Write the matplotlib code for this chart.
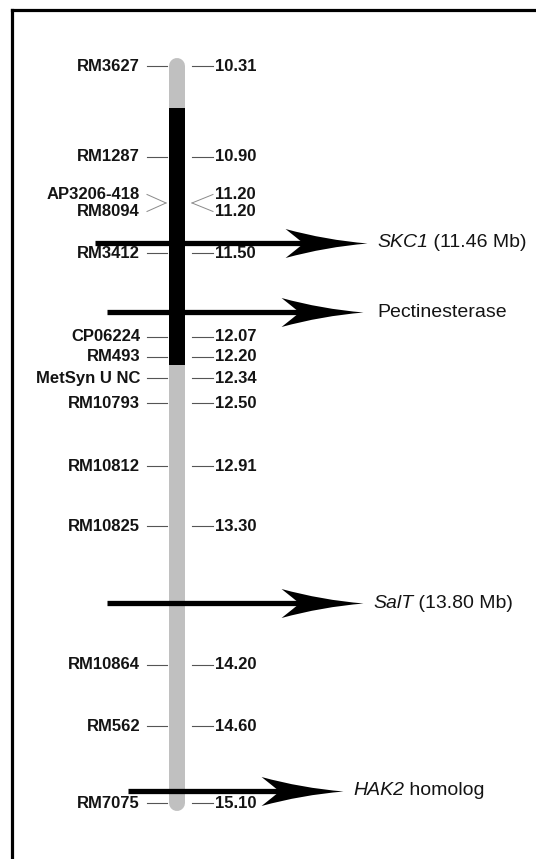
import numpy as np
import matplotlib
matplotlib.use("Agg")
from matplotlib import pyplot as plt
from matplotlib.path import Path

plt.rcParams['font.family'] = ['Liberation Sans', 'DejaVu Sans']

# markers along the chromosome (physical position, Mb)
marker_names = ["RM3627", "RM1287", "AP3206-418", "RM8094", "RM3412", "CP06224", "RM493",
                "MetSyn U NC", "RM10793", "RM10812", "RM10825", "RM10864", "RM562", "RM7075"]
marker_mb = [10.31, 10.90, 11.20, 11.20, 11.50, 12.07, 12.20, 12.34, 12.50, 12.91, 13.30,
             14.20, 14.60, 15.10]
# labels that would collide are pushed apart (pixels)
label_shift_px = [0, 0, -8.5, 8.5, 4, 0, 0, 0, 0, 0, 0, 0, 0, 0]

# QTL interval shown in black
qtl_mb = [10.58, 12.25]

# candidate genes
gene_names = ["SKC1", "Pectinesterase", "SalT", "HAK2"]
gene_mb = [11.46, 11.91, 13.80, 15.02]
gene_italic = [True, False, True, True]
gene_suffix = [" ({:.2f} Mb)", "", " ({:.2f} Mb)", " homolog"]

# arrow geometry (horizontal layout units = pixels)
arrow_start = [95, 107, 107, 128]
arrow_tip = [367, 363, 363, 343]
text_x = [377, 377, 373, 353]

fig = plt.figure(figsize=(5.36, 8.59), dpi=100)
W, H = 536, 859
ax = fig.add_axes([12 / W, 0, 1 - 12 / W, 1 - 10 / H])
y_top, y_bottom = 9.946, 15.463
ax.set_xlim(12, W)
ax.set_ylim(y_bottom, y_top)
px_per_mb = (H - 10) / (y_bottom - y_top)
ax.set_xticks([])
ax.set_yticks([])
for side in ["right", "bottom"]:
    ax.spines[side].set_visible(False)
for side in ["left", "top"]:
    ax.spines[side].set_linewidth(2.3)
    ax.spines[side].set_color("black")

x_c = 177
chrom_lw = 16 * 0.72
ax.plot([x_c, x_c], [marker_mb[0], marker_mb[-1]], color="#c0c0c0", lw=chrom_lw,
        solid_capstyle="round", zorder=2)
ax.plot([x_c, x_c], qtl_mb, color="black", lw=chrom_lw, solid_capstyle="butt", zorder=3)

txt_color = "#141414"
for name, mb, sh in zip(marker_names, marker_mb, label_shift_px):
    y_lab = mb + sh / px_per_mb
    if abs(sh) > 5:
        # shared position: angled connectors meeting at the chromosome
        ax.plot([147, 166], [y_lab, mb], color="#8a8a8a", lw=0.7, zorder=1)
        ax.plot([192, 213], [mb, y_lab], color="#8a8a8a", lw=0.7, zorder=1)
    else:
        ax.plot([147, 167], [y_lab, y_lab], color="#555555", lw=0.8, zorder=1)
        ax.plot([192, 213], [y_lab, y_lab], color="#555555", lw=0.8, zorder=1)
    ax.text(140, y_lab, name, ha="right", va="center", fontsize=12, fontweight="bold",
            color=txt_color, zorder=4)
    ax.text(215, y_lab, f"{mb:.2f}", ha="left", va="center", fontsize=12, fontweight="bold",
            color=txt_color, zorder=4)

# swept arrowhead, tip at origin
head = Path([(0, 0), (-42, 3.5), (-82, 14.5), (-70, 5), (-64, 0),
             (-70, -5), (-82, -14.5), (-42, -3.5), (0, 0), (0, 0)],
            [Path.MOVETO, Path.CURVE3, Path.CURVE3, Path.CURVE3, Path.CURVE3,
             Path.CURVE3, Path.CURVE3, Path.CURVE3, Path.CURVE3, Path.CLOSEPOLY])

for i, name in enumerate(gene_names):
    mb = gene_mb[i]
    ax.plot([arrow_start[i], arrow_tip[i] - 55], [mb, mb], color="black", lw=3.8,
            solid_capstyle="butt", zorder=5)
    ax.plot(arrow_tip[i], mb, marker=head, markersize=118, color="black",
            markeredgewidth=0, zorder=5)
    t = ax.text(text_x[i], mb, name, ha="left", va="center", fontsize=14, color=txt_color,
                style="italic" if gene_italic[i] else "normal", zorder=6)
    if gene_suffix[i]:
        ax.annotate(gene_suffix[i].format(mb), xy=(1, 0), xycoords=t, ha="left", va="bottom",
                    fontsize=14, color=txt_color, zorder=6)

fig.savefig("out.png", dpi=100)
